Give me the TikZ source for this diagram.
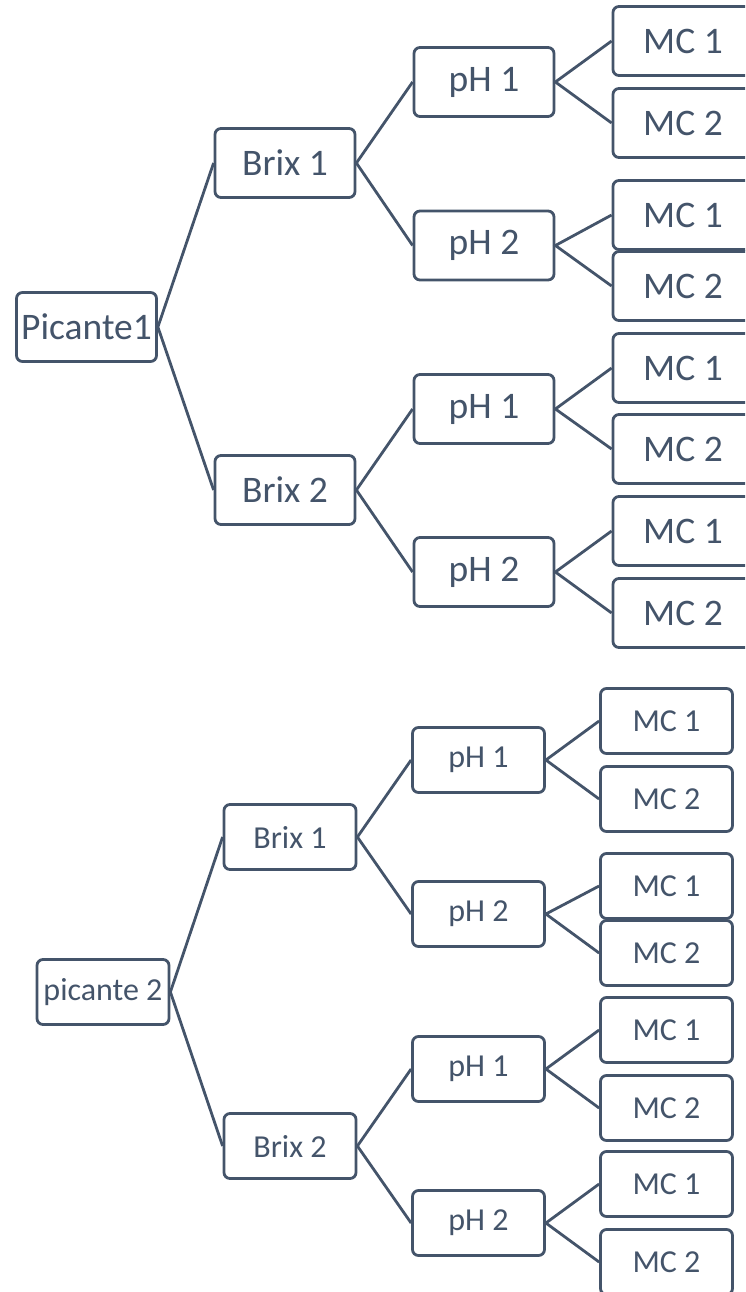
\documentclass[tikz,border=0pt]{standalone}
\usepackage{fontspec}
\setmainfont{Carlito}
\usepackage{tikz}
\definecolor{slate}{RGB}{68, 84, 106}

\tikzset{
  bigbox/.style={draw=slate, line width=2.8pt, rounded corners=6pt, text=slate,
    inner sep=0pt, minimum width=140pt, minimum height=69pt,
    font=\fontsize{37.5}{40}\selectfont},
  smallbox/.style={draw=slate, line width=2.8pt, rounded corners=6pt, text=slate,
    inner sep=0pt, minimum width=132pt, minimum height=65pt,
    font=\fontsize{32}{35}\selectfont},
  branch/.style={draw=slate, line width=2.8pt}
}

\begin{document}
\begin{tikzpicture}[x=1pt, y=-1pt]
            % Frame
            \path[use as bounding box, clip] (0,0) rectangle (745,1292);
            % Picante1 tree
            \node[bigbox] (pa)    at ( 86.5, 327) {Picante1};
            \node[bigbox] (pa1)   at (285, 163) {Brix 1};
            \node[bigbox] (pa2)   at (285, 490) {Brix 2};
            \node[bigbox] (pa11)  at (484,  82) {pH 1};
            \node[bigbox] (pa12)  at (484, 245.5) {pH 2};
            \node[bigbox] (pa21)  at (484, 409) {pH 1};
            \node[bigbox] (pa22)  at (484, 572) {pH 2};
            \node[bigbox] (pa111) at (683,  41) {MC 1};
            \node[bigbox] (pa112) at (683, 123) {MC 2};
            \node[bigbox] (pa121) at (683, 215) {MC 1};
            \node[bigbox] (pa122) at (683, 286) {MC 2};
            \node[bigbox] (pa211) at (683, 368) {MC 1};
            \node[bigbox] (pa212) at (683, 449) {MC 2};
            \node[bigbox] (pa221) at (683, 531) {MC 1};
            \node[bigbox] (pa222) at (683, 613) {MC 2};
            \draw[branch] (pa1.west) -- (pa.east) -- (pa2.west);
            \draw[branch] (pa11.west) -- (pa1.east) -- (pa12.west);
            \draw[branch] (pa21.west) -- (pa2.east) -- (pa22.west);
            \draw[branch] (pa111.west) -- (pa11.east) -- (pa112.west);
            \draw[branch] (pa121.west) -- (pa12.east) -- (pa122.west);
            \draw[branch] (pa211.west) -- (pa21.east) -- (pa212.west);
            \draw[branch] (pa221.west) -- (pa22.east) -- (pa222.west);
            % picante 2 tree
            \node[smallbox] (pb)    at (103, 992) {picante 2};
            \node[smallbox] (pb1)   at (290, 837) {Brix 1};
            \node[smallbox] (pb2)   at (290, 1146) {Brix 2};
            \node[smallbox] (pb11)  at (478.5, 760) {pH 1};
            \node[smallbox] (pb12)  at (478.5, 914) {pH 2};
            \node[smallbox] (pb21)  at (478.5, 1069) {pH 1};
            \node[smallbox] (pb22)  at (478.5, 1223) {pH 2};
            \node[smallbox] (pb111) at (666.5, 721) {MC 1};
            \node[smallbox] (pb112) at (666.5, 799) {MC 2};
            \node[smallbox] (pb121) at (666.5, 886) {MC 1};
            \node[smallbox] (pb122) at (666.5, 953) {MC 2};
            \node[smallbox] (pb211) at (666.5, 1030) {MC 1};
            \node[smallbox] (pb212) at (666.5, 1108) {MC 2};
            \node[smallbox] (pb221) at (666.5, 1184) {MC 1};
            \node[smallbox] (pb222) at (666.5, 1262) {MC 2};
            \draw[branch] (pb1.west) -- (pb.east) -- (pb2.west);
            \draw[branch] (pb11.west) -- (pb1.east) -- (pb12.west);
            \draw[branch] (pb21.west) -- (pb2.east) -- (pb22.west);
            \draw[branch] (pb111.west) -- (pb11.east) -- (pb112.west);
            \draw[branch] (pb121.west) -- (pb12.east) -- (pb122.west);
            \draw[branch] (pb211.west) -- (pb21.east) -- (pb212.west);
            \draw[branch] (pb221.west) -- (pb22.east) -- (pb222.west);
        \end{tikzpicture}
\end{document}
